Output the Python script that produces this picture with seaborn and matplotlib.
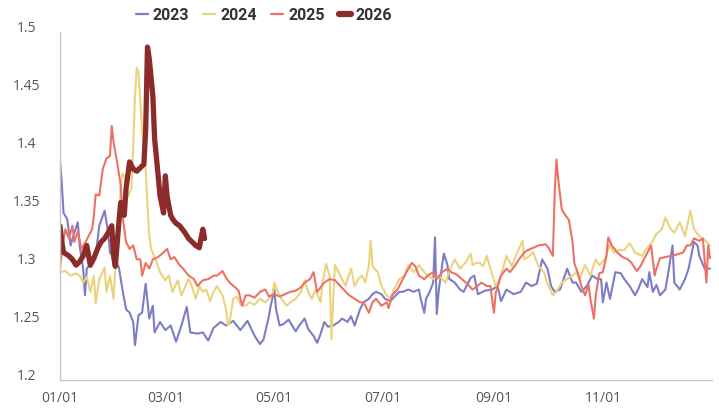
import matplotlib
matplotlib.use("Agg")
import matplotlib.pyplot as plt
import matplotlib.transforms as mtransforms
from matplotlib.lines import Line2D
import seaborn as sns

# day of year -> value
days_2023 = [0, 1, 2, 4, 6, 7, 10, 11, 13, 14, 15, 18, 20, 22, 25, 27, 28, 31, 33, 35,
             37, 39, 41, 42, 44, 46, 48, 50, 52, 53, 56, 59, 62, 65, 68, 71, 73, 77, 80, 83,
             86, 90, 93, 97, 101, 105, 109, 112, 114, 117, 118, 120, 121, 123, 125, 128, 132, 134, 137, 139,
             142, 144, 146, 148, 150, 153, 156, 158, 161, 163, 165, 168, 170, 173, 175, 177, 180, 182, 185, 190,
             192, 195, 198, 201, 202, 204, 205, 207, 209, 210, 211, 212, 214, 215, 217, 218, 221, 224, 226, 230,
             232, 234, 238, 242, 245, 247, 250, 254, 258, 261, 264, 267, 270, 273, 275, 277, 280, 284, 287, 289,
             292, 295, 298, 301, 303, 304, 306, 308, 311, 314, 316, 319, 322, 324, 326, 329, 330, 332, 334, 336,
             339, 341, 343, 344, 347, 350, 352, 355, 357, 358, 361, 364]
vals_2023 = [1.390, 1.370, 1.344, 1.339, 1.316, 1.322, 1.336, 1.316, 1.296, 1.273, 1.296, 1.302, 1.307, 1.333, 1.346, 1.327, 1.310, 1.304, 1.297, 1.278,
             1.261, 1.258, 1.250, 1.230, 1.256, 1.258, 1.283, 1.253, 1.264, 1.241, 1.250, 1.243, 1.247, 1.233, 1.247, 1.263, 1.241, 1.240, 1.241, 1.234,
             1.245, 1.250, 1.247, 1.251, 1.243, 1.251, 1.238, 1.231, 1.235, 1.255, 1.264, 1.278, 1.261, 1.247, 1.248, 1.252, 1.242, 1.247, 1.253, 1.244,
             1.238, 1.232, 1.240, 1.250, 1.246, 1.247, 1.250, 1.253, 1.250, 1.255, 1.247, 1.261, 1.267, 1.270, 1.274, 1.276, 1.274, 1.270, 1.268, 1.276,
             1.276, 1.278, 1.276, 1.278, 1.270, 1.258, 1.270, 1.276, 1.284, 1.323, 1.257, 1.276, 1.299, 1.309, 1.299, 1.287, 1.284, 1.278, 1.276, 1.288,
             1.290, 1.274, 1.277, 1.278, 1.281, 1.268, 1.278, 1.274, 1.276, 1.284, 1.281, 1.283, 1.304, 1.296, 1.281, 1.276, 1.278, 1.296, 1.284, 1.284,
             1.276, 1.281, 1.290, 1.287, 1.287, 1.267, 1.284, 1.270, 1.293, 1.292, 1.287, 1.281, 1.273, 1.279, 1.287, 1.280, 1.293, 1.276, 1.282, 1.273,
             1.278, 1.296, 1.316, 1.284, 1.278, 1.287, 1.296, 1.319, 1.316, 1.307, 1.296, 1.296]

days_2024 = [0, 3, 6, 9, 11, 13, 15, 17, 19, 20, 22, 25, 26, 28, 30, 31, 33, 34, 35, 36,
             37, 38, 40, 41, 42, 43, 44, 45, 46, 48, 49, 50, 51, 54, 56, 59, 61, 63, 66, 68,
             70, 72, 74, 76, 78, 80, 82, 84, 86, 88, 91, 93, 94, 95, 97, 99, 101, 104, 106, 109,
             112, 115, 117, 119, 120, 122, 124, 127, 129, 132, 135, 137, 139, 141, 143, 146, 147, 149, 151, 152,
             153, 154, 157, 160, 161, 163, 165, 167, 169, 171, 173, 174, 175, 176, 178, 180, 183, 185, 187, 190,
             193, 195, 198, 201, 204, 206, 209, 212, 216, 218, 221, 224, 227, 230, 231, 233, 235, 237, 239, 241,
             244, 247, 250, 253, 256, 259, 260, 263, 265, 268, 271, 273, 276, 278, 281, 284, 287, 289, 291, 294,
             297, 300, 302, 305, 308, 310, 313, 316, 319, 322, 326, 328, 330, 332, 334, 337, 339, 342, 344, 347,
             350, 353, 355, 358, 361, 364]
vals_2024 = [1.293, 1.294, 1.290, 1.292, 1.290, 1.284, 1.289, 1.276, 1.290, 1.266, 1.287, 1.297, 1.276, 1.290, 1.270, 1.296, 1.341, 1.366, 1.378, 1.376,
             1.368, 1.358, 1.365, 1.400, 1.445, 1.469, 1.465, 1.440, 1.416, 1.382, 1.350, 1.325, 1.313, 1.302, 1.293, 1.286, 1.290, 1.276, 1.286, 1.273,
             1.280, 1.287, 1.280, 1.270, 1.281, 1.276, 1.278, 1.268, 1.276, 1.281, 1.273, 1.261, 1.247, 1.250, 1.270, 1.272, 1.265, 1.264, 1.267, 1.265,
             1.270, 1.267, 1.270, 1.274, 1.284, 1.276, 1.270, 1.264, 1.267, 1.270, 1.276, 1.286, 1.276, 1.270, 1.278, 1.267, 1.284, 1.300, 1.290, 1.235,
             1.270, 1.299, 1.290, 1.281, 1.287, 1.296, 1.281, 1.287, 1.290, 1.284, 1.299, 1.320, 1.299, 1.296, 1.293, 1.281, 1.273, 1.270, 1.278, 1.287,
             1.290, 1.299, 1.293, 1.299, 1.293, 1.290, 1.287, 1.290, 1.284, 1.294, 1.304, 1.296, 1.301, 1.309, 1.299, 1.301, 1.301, 1.298, 1.307, 1.296,
             1.281, 1.290, 1.307, 1.298, 1.310, 1.320, 1.304, 1.307, 1.310, 1.298, 1.293, 1.283, 1.273, 1.276, 1.284, 1.287, 1.290, 1.293, 1.287, 1.299,
             1.290, 1.304, 1.299, 1.304, 1.317, 1.310, 1.312, 1.312, 1.318, 1.310, 1.307, 1.312, 1.316, 1.320, 1.326, 1.330, 1.340, 1.330, 1.327, 1.336,
             1.324, 1.346, 1.330, 1.324, 1.321, 1.316]

days_2025 = [0, 1, 3, 5, 7, 8, 10, 12, 14, 16, 18, 19, 20, 22, 24, 26, 28, 29, 30, 32,
             34, 35, 37, 39, 41, 43, 45, 46, 48, 50, 52, 55, 58, 60, 62, 64, 67, 69, 72, 75,
             77, 80, 83, 86, 88, 91, 93, 95, 98, 100, 102, 104, 106, 109, 112, 115, 117, 120, 123, 126,
             129, 132, 135, 137, 140, 142, 144, 146, 148, 151, 154, 157, 160, 162, 165, 168, 170, 173, 175, 177,
             180, 183, 184, 186, 189, 191, 194, 197, 199, 201, 204, 206, 209, 211, 214, 217, 219, 222, 225, 228,
             231, 233, 236, 239, 241, 243, 244, 247, 250, 252, 255, 257, 260, 262, 265, 268, 272, 274, 276, 277,
             278, 279, 281, 283, 285, 287, 288, 290, 292, 294, 296, 297, 299, 300, 302, 304, 306, 307, 309, 312,
             315, 318, 320, 323, 325, 328, 330, 331, 333, 334, 336, 339, 342, 345, 349, 351, 353, 355, 358, 360,
             362, 363, 364]
vals_2025 = [1.296, 1.310, 1.330, 1.322, 1.333, 1.319, 1.328, 1.313, 1.318, 1.324, 1.330, 1.342, 1.360, 1.359, 1.382, 1.391, 1.393, 1.419, 1.405, 1.388,
             1.368, 1.342, 1.319, 1.313, 1.316, 1.304, 1.304, 1.290, 1.301, 1.296, 1.304, 1.306, 1.310, 1.313, 1.304, 1.306, 1.299, 1.296, 1.290, 1.287,
             1.281, 1.286, 1.287, 1.290, 1.290, 1.294, 1.288, 1.284, 1.280, 1.277, 1.264, 1.273, 1.273, 1.271, 1.276, 1.278, 1.272, 1.274, 1.272, 1.274,
             1.276, 1.277, 1.280, 1.284, 1.287, 1.293, 1.276, 1.280, 1.284, 1.287, 1.286, 1.281, 1.276, 1.273, 1.270, 1.267, 1.267, 1.258, 1.267, 1.270,
             1.264, 1.267, 1.262, 1.273, 1.278, 1.284, 1.293, 1.301, 1.298, 1.290, 1.287, 1.290, 1.293, 1.287, 1.293, 1.296, 1.293, 1.291, 1.287, 1.283,
             1.278, 1.280, 1.284, 1.281, 1.281, 1.258, 1.275, 1.290, 1.296, 1.293, 1.299, 1.304, 1.310, 1.312, 1.314, 1.316, 1.317, 1.313, 1.307, 1.360,
             1.390, 1.373, 1.347, 1.342, 1.338, 1.319, 1.301, 1.292, 1.281, 1.273, 1.282, 1.270, 1.253, 1.273, 1.292, 1.293, 1.307, 1.323, 1.316, 1.310,
             1.306, 1.304, 1.301, 1.294, 1.298, 1.307, 1.313, 1.316, 1.290, 1.296, 1.305, 1.306, 1.307, 1.308, 1.310, 1.316, 1.316, 1.322, 1.320, 1.322,
             1.284, 1.316, 1.305]

days_2026 = [0, 1, 2, 5, 7, 9, 11, 13, 15, 17, 19, 21, 23, 25, 27, 29, 30, 31, 33, 34,
             36, 37, 39, 41, 43, 45, 47, 48, 49, 50, 52, 53, 55, 56, 58, 59, 60, 62, 63, 65,
             67, 70, 72, 74, 76, 78, 80, 81]
vals_2026 = [1.333, 1.319, 1.310, 1.307, 1.304, 1.299, 1.302, 1.307, 1.316, 1.299, 1.305, 1.313, 1.319, 1.322, 1.327, 1.333, 1.307, 1.298, 1.336, 1.353,
             1.342, 1.365, 1.388, 1.382, 1.380, 1.383, 1.386, 1.416, 1.487, 1.477, 1.445, 1.408, 1.376, 1.359, 1.344, 1.376, 1.358, 1.342, 1.339, 1.335,
             1.333, 1.327, 1.322, 1.319, 1.316, 1.314, 1.330, 1.322]

years = ["2023", "2024", "2025", "2026"]
colors = ["#7d7dc6", "#ebd37e", "#ec7266", "#8b2c2b"]
widths = [1.5, 1.5, 1.5, 3.8]

tick_days = [0, 59, 120, 181, 243, 304]
tick_names = ["01/01", "03/01", "05/01", "07/01", "09/01", "11/01"]
y_ticks = [1.2, 1.25, 1.3, 1.35, 1.4, 1.45, 1.5]
y_names = ["1.2", "1.25", "1.3", "1.35", "1.4", "1.45", "1.5"]

sns.set_style("white")
plt.rcParams["font.family"] = ["Open Sans", "DejaVu Sans"]

fig = plt.figure(figsize=(7.19, 4.10), dpi=100)
ax = fig.add_axes([0.0834, 0.0707, 0.9066, 0.8488])

series = [(days_2023, vals_2023), (days_2024, vals_2024),
          (days_2025, vals_2025), (days_2026, vals_2026)]
for (d, v), c, w in zip(series, colors, widths):
    sns.lineplot(x=d, y=v, ax=ax, color=c, linewidth=w, legend=False)

ax.set_xlim(0, 365)
ax.set_ylim(1.2, 1.5)
ax.set_xticks(tick_days)
ax.set_xticklabels(tick_names)
ax.set_yticks(y_ticks)
ax.set_yticklabels(y_names, ha="center")
ax.set_xlabel("")
ax.set_ylabel("")

sns.despine(ax=ax)
for side in ["left", "bottom"]:
    ax.spines[side].set_color("#c6c6c6")
    ax.spines[side].set_linewidth(1)

ax.tick_params(axis="both", direction="in", length=4, width=1, color="#c6c6c6",
               labelcolor="#555555", labelsize=10)
ax.tick_params(axis="y", pad=24)
ax.tick_params(axis="x", pad=7)

# y labels sit a little above their ticks in the original
shift = mtransforms.ScaledTranslation(0, 7 / 100, fig.dpi_scale_trans)
for lab in ax.get_yticklabels():
    lab.set_transform(lab.get_transform() + shift)

handles = [Line2D([0], [0], color=c, lw=(1.6 if w < 2 else 4.5)) for c, w in zip(colors, widths)]
fig.legend(handles, years, loc="center", bbox_to_anchor=(264 / 719, 1 - 16 / 410),
           ncol=4, frameon=False, handlelength=0.75, handletextpad=0.3, columnspacing=0.9,
           prop={"family": ["Roboto", "DejaVu Sans"], "weight": "bold", "size": 11.5},
           labelcolor="#333333")

fig.savefig("out.png", dpi=100)
